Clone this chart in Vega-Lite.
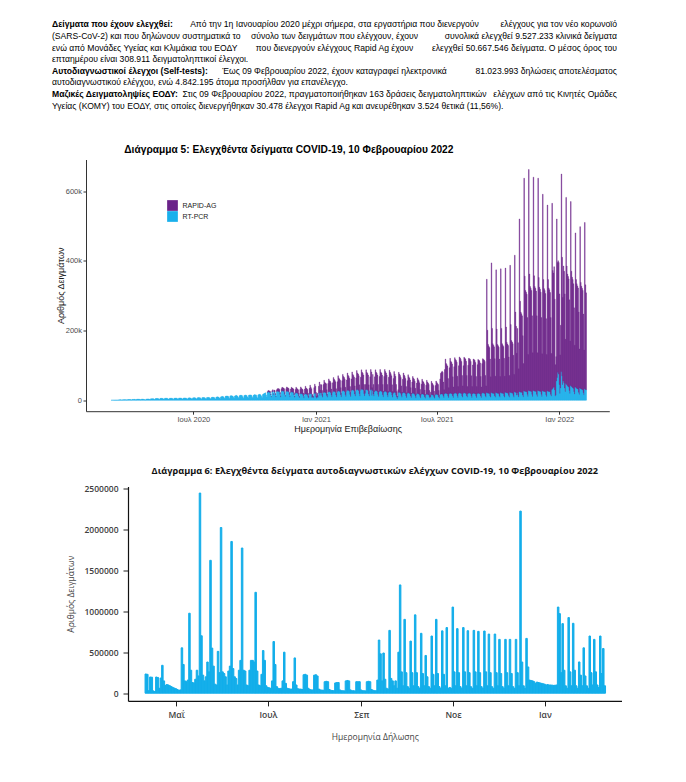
{
"$schema": "https://vega.github.io/schema/vega-lite/v6.json",
"background": "white",
"padding": {"left": 0, "top": 18.5, "right": 0, "bottom": 0},
"config": {"view": {"stroke": null}, "axis": {"grid": false}},
"datasets": {
"tb": [{"l":1,"t":"Δείγματα που έχουν ελεγχθεί:"},{"l":5,"t":"Αυτοδιαγνωστικοί έλεγχοι (Self-tests):"},{"l":7,"t":"Μαζικές Δειγματοληψίες ΕΟΔΥ:"}],
"tl": [{"l":2,"t":"(SARS-CoV-2) και που δηλώνουν συστηματικά το"},{"l":3,"t":"ενώ από Μονάδες Υγείας και Κλιμάκια του ΕΟΔΥ"},{"l":4,"t":"επταημέρου είναι 308.911 δειγματοληπτικοί έλεγχοι."},{"l":6,"t":"αυτοδιαγνωστικού ελέγχου, ενώ 4.842.195 άτομα προσήλθαν για επανέλεγχο."},{"l":8,"t":"Υγείας (ΚΟΜΥ) του ΕΟΔΥ, στις οποίες διενεργήθηκαν 30.478 έλεγχοι Rapid Ag και ανευρέθηκαν 3.524 θετικά (11,56%)."}],
"tc": [{"l":1,"t":"Από την 1η Ιανουαρίου 2020 μέχρι σήμερα, στα εργαστήρια που διενεργούν"},{"l":2,"t":"σύνολο των δειγμάτων που ελέγχουν, έχουν"},{"l":3,"t":"που διενεργούν ελέγχους Rapid Ag έχουν"},{"l":5,"t":"Έως 09 Φεβρουαρίου 2022, έχουν καταγραφεί ηλεκτρονικά"},{"l":7,"t":"Στις 09 Φεβρουαρίου 2022, πραγματοποιήθηκαν 163 δράσεις δειγματοληπτικών"}],
"tr": [{"l":1,"t":"ελέγχους για τον νέο κορωνοϊό"},{"l":2,"t":"συνολικά ελεγχθεί 9.527.233 κλινικά δείγματα"},{"l":3,"t":"ελεγχθεί 50.667.546 δείγματα.  Ο μέσος όρος του"},{"l":5,"t":"81.023.993 δηλώσεις αποτελέσματος"},{"l":7,"t":"ελέγχων από τις Κινητές Ομάδες"}],
"c5": [
{"d":"2020-02-28","p":0.2},{"d":"2020-02-29","p":0.2},{"d":"2020-03-01","p":0.1},
{"d":"2020-03-02","p":0.3},{"d":"2020-03-03","p":0.3},{"d":"2020-03-04","p":0.4},{"d":"2020-03-05","p":0.5},{"d":"2020-03-06","p":0.5},{"d":"2020-03-07","p":0.4},{"d":"2020-03-08","p":0.2},
{"d":"2020-03-09","p":0.7},{"d":"2020-03-10","p":0.8},{"d":"2020-03-11","p":0.9},{"d":"2020-03-12","p":1.0},{"d":"2020-03-13","p":1.1},{"d":"2020-03-14","p":0.8},{"d":"2020-03-15","p":0.5},
{"d":"2020-03-16","p":1.2},{"d":"2020-03-17","p":1.3},{"d":"2020-03-18","p":1.4},{"d":"2020-03-19","p":1.5},{"d":"2020-03-20","p":1.5},{"d":"2020-03-21","p":1.1},{"d":"2020-03-22","p":0.7},
{"d":"2020-03-23","p":1.6},{"d":"2020-03-24","p":1.8},{"d":"2020-03-25","p":1.7},{"d":"2020-03-26","p":1.9},{"d":"2020-03-27","p":1.8},{"d":"2020-03-28","p":1.3},{"d":"2020-03-29","p":0.8},
{"d":"2020-03-30","p":2.0},{"d":"2020-03-31","p":2.2},{"d":"2020-04-01","p":2.1},{"d":"2020-04-02","p":2.3},{"d":"2020-04-03","p":2.4},{"d":"2020-04-04","p":1.6},{"d":"2020-04-05","p":1.0},
{"d":"2020-04-06","p":2.6},{"d":"2020-04-07","p":2.8},{"d":"2020-04-08","p":2.7},{"d":"2020-04-09","p":2.9},{"d":"2020-04-10","p":2.5},{"d":"2020-04-11","p":1.8},{"d":"2020-04-12","p":1.0},
{"d":"2020-04-13","p":2.8},{"d":"2020-04-14","p":3.0},{"d":"2020-04-15","p":3.1},{"d":"2020-04-16","p":2.6},{"d":"2020-04-17","p":2.0},{"d":"2020-04-18","p":1.5},{"d":"2020-04-19","p":0.8},
{"d":"2020-04-20","p":3.0},{"d":"2020-04-21","p":3.4},{"d":"2020-04-22","p":3.5},{"d":"2020-04-23","p":3.6},{"d":"2020-04-24","p":3.3},{"d":"2020-04-25","p":2.4},{"d":"2020-04-26","p":1.4},
{"d":"2020-04-27","p":3.8},{"d":"2020-04-28","p":4.0},{"d":"2020-04-29","p":4.1},{"d":"2020-04-30","p":4.2},{"d":"2020-05-01","p":4.0},{"d":"2020-05-02","p":2.8},{"d":"2020-05-03","p":1.6},
{"d":"2020-05-04","p":4.5},{"d":"2020-05-05","p":4.8},{"d":"2020-05-06","p":5.0},{"d":"2020-05-07","p":4.9},{"d":"2020-05-08","p":4.6},{"d":"2020-05-09","p":3.2},{"d":"2020-05-10","p":1.9},
{"d":"2020-05-11","p":5.0},{"d":"2020-05-12","p":5.3},{"d":"2020-05-13","p":5.4},{"d":"2020-05-14","p":5.2},{"d":"2020-05-15","p":5.0},{"d":"2020-05-16","p":3.5},{"d":"2020-05-17","p":2.0},
{"d":"2020-05-18","p":5.4},{"d":"2020-05-19","p":5.6},{"d":"2020-05-20","p":5.8},{"d":"2020-05-21","p":5.5},{"d":"2020-05-22","p":5.2},{"d":"2020-05-23","p":3.6},{"d":"2020-05-24","p":2.1},
{"d":"2020-05-25","p":5.2},{"d":"2020-05-26","p":5.5},{"d":"2020-05-27","p":5.6},{"d":"2020-05-28","p":5.7},{"d":"2020-05-29","p":5.3},{"d":"2020-05-30","p":3.7},{"d":"2020-05-31","p":2.2},
{"d":"2020-06-01","p":5.5},{"d":"2020-06-02","p":5.8},{"d":"2020-06-03","p":6.0},{"d":"2020-06-04","p":5.9},{"d":"2020-06-05","p":5.6},{"d":"2020-06-06","p":3.9},{"d":"2020-06-07","p":2.3},
{"d":"2020-06-08","p":5.8},{"d":"2020-06-09","p":6.1},{"d":"2020-06-10","p":6.3},{"d":"2020-06-11","p":6.0},{"d":"2020-06-12","p":5.7},{"d":"2020-06-13","p":4.0},{"d":"2020-06-14","p":2.4},
{"d":"2020-06-15","p":6.0},{"d":"2020-06-16","p":6.3},{"d":"2020-06-17","p":6.5},{"d":"2020-06-18","p":6.2},{"d":"2020-06-19","p":5.9},{"d":"2020-06-20","p":4.1},{"d":"2020-06-21","p":2.4},
{"d":"2020-06-22","p":6.2},{"d":"2020-06-23","p":6.6},{"d":"2020-06-24","p":6.8},{"d":"2020-06-25","p":6.4},{"d":"2020-06-26","p":6.1},{"d":"2020-06-27","p":4.3},{"d":"2020-06-28","p":2.6},
{"d":"2020-06-29","p":6.5},{"d":"2020-06-30","p":6.9},{"d":"2020-07-01","p":7.1},{"d":"2020-07-02","p":6.8},{"d":"2020-07-03","p":6.5},{"d":"2020-07-04","p":4.5},{"d":"2020-07-05","p":2.7},
{"d":"2020-07-06","p":6.8},{"d":"2020-07-07","p":7.2},{"d":"2020-07-08","p":7.4},{"d":"2020-07-09","p":7.0},{"d":"2020-07-10","p":6.7},{"d":"2020-07-11","p":4.7},{"d":"2020-07-12","p":2.9},
{"d":"2020-07-13","p":7.0},{"d":"2020-07-14","p":7.5},{"d":"2020-07-15","p":7.7},{"d":"2020-07-16","p":7.3},{"d":"2020-07-17","p":7.0},{"d":"2020-07-18","p":4.9},{"d":"2020-07-19","p":3.0},
{"d":"2020-07-20","p":7.3},{"d":"2020-07-21","p":7.8},{"d":"2020-07-22","p":8.0},{"d":"2020-07-23","p":7.6},{"d":"2020-07-24","p":7.2},{"d":"2020-07-25","p":5.1},{"d":"2020-07-26","p":3.2},
{"d":"2020-07-27","p":7.8},{"d":"2020-07-28","p":8.3},{"d":"2020-07-29","p":8.6},{"d":"2020-07-30","p":8.2},{"d":"2020-07-31","p":7.8},{"d":"2020-08-01","p":5.5},{"d":"2020-08-02","p":3.4},
{"d":"2020-08-03","p":8.5},{"d":"2020-08-04","p":9.2},{"d":"2020-08-05","p":9.6},{"d":"2020-08-06","p":9.1},{"d":"2020-08-07","p":8.6},{"d":"2020-08-08","p":6.0},{"d":"2020-08-09","p":3.8},
{"d":"2020-08-10","p":9.5},{"d":"2020-08-11","p":10},{"d":"2020-08-12","p":11},{"d":"2020-08-13","p":10},{"d":"2020-08-14","p":9.7},{"d":"2020-08-15","p":6.8},{"d":"2020-08-16","p":4.3},
{"d":"2020-08-17","p":11},{"d":"2020-08-18","p":12},{"d":"2020-08-19","p":12},{"d":"2020-08-20","p":12},{"d":"2020-08-21","p":11},{"d":"2020-08-22","p":7.8},{"d":"2020-08-23","p":4.9},
{"d":"2020-08-24","p":12},{"d":"2020-08-25","p":13},{"d":"2020-08-26","p":13},{"d":"2020-08-27","p":12},{"d":"2020-08-28","p":12},{"d":"2020-08-29","p":8.3},{"d":"2020-08-30","p":5.3},
{"d":"2020-08-31","p":12},{"d":"2020-09-01","p":13},{"d":"2020-09-02","p":14},{"d":"2020-09-03","p":13},{"d":"2020-09-04","p":12},{"d":"2020-09-05","p":8.7},{"d":"2020-09-06","p":5.6},
{"d":"2020-09-07","p":13},{"d":"2020-09-08","p":14},{"d":"2020-09-09","p":14},{"d":"2020-09-10","p":14},{"d":"2020-09-11","p":13},{"d":"2020-09-12","p":9},{"d":"2020-09-13","p":5.8},
{"d":"2020-09-14","p":13},{"d":"2020-09-15","p":14},{"d":"2020-09-16","p":15},{"d":"2020-09-17","p":14},{"d":"2020-09-18","p":13},{"d":"2020-09-19","p":9.4},{"d":"2020-09-20","p":6},
{"d":"2020-09-21","p":14},{"d":"2020-09-22","p":15},{"d":"2020-09-23","p":15},{"d":"2020-09-24","p":15},{"d":"2020-09-25","p":14},{"d":"2020-09-26","p":9.8},{"d":"2020-09-27","p":6.2},
{"d":"2020-09-28","p":14},{"d":"2020-09-29","p":15},{"d":"2020-09-30","p":16},{"d":"2020-10-01","p":15},{"d":"2020-10-02","p":15},{"d":"2020-10-03","p":10},{"d":"2020-10-04","p":6.5},
{"d":"2020-10-05","p":15},{"d":"2020-10-06","p":16},{"d":"2020-10-07","p":17},{"d":"2020-10-08","p":16},{"d":"2020-10-09","p":15},{"d":"2020-10-10","p":11},{"d":"2020-10-11","p":6.9},
{"d":"2020-10-12","p":16},{"d":"2020-10-13","p":18},{"d":"2020-10-14","p":19},{"d":"2020-10-15","p":20},{"d":"2020-10-16","p":21},{"d":"2020-10-17","p":15},{"d":"2020-10-18","p":9},
{"d":"2020-10-19","p":22,"r":2},{"d":"2020-10-20","p":24,"r":3},{"d":"2020-10-21","p":24,"r":4},{"d":"2020-10-22","p":23,"r":3},{"d":"2020-10-23","p":22,"r":3},{"d":"2020-10-24","p":16,"r":2},{"d":"2020-10-25","p":10,"r":1},
{"d":"2020-10-26","p":23,"r":4},{"d":"2020-10-27","p":25,"r":5},{"d":"2020-10-28","p":16,"r":3},{"d":"2020-10-29","p":24,"r":5},{"d":"2020-10-30","p":23,"r":5},{"d":"2020-10-31","p":16,"r":3},{"d":"2020-11-01","p":10,"r":2},
{"d":"2020-11-02","p":24,"r":6},{"d":"2020-11-03","p":26,"r":7},{"d":"2020-11-04","p":26,"r":7},{"d":"2020-11-05","p":25,"r":8},{"d":"2020-11-06","p":24,"r":7},{"d":"2020-11-07","p":17,"r":5},{"d":"2020-11-08","p":10,"r":3},
{"d":"2020-11-09","p":25,"r":8},{"d":"2020-11-10","p":27,"r":10},{"d":"2020-11-11","p":27,"r":9},{"d":"2020-11-12","p":26,"r":9},{"d":"2020-11-13","p":25,"r":8},{"d":"2020-11-14","p":17,"r":6},{"d":"2020-11-15","p":11,"r":3},
{"d":"2020-11-16","p":24,"r":9},{"d":"2020-11-17","p":26,"r":12},{"d":"2020-11-18","p":26,"r":10},{"d":"2020-11-19","p":25,"r":10},{"d":"2020-11-20","p":24,"r":9},{"d":"2020-11-21","p":16,"r":6},{"d":"2020-11-22","p":10,"r":3},
{"d":"2020-11-23","p":22,"r":10},{"d":"2020-11-24","p":24,"r":13},{"d":"2020-11-25","p":24,"r":11},{"d":"2020-11-26","p":23,"r":11},{"d":"2020-11-27","p":22,"r":10},{"d":"2020-11-28","p":15,"r":6},{"d":"2020-11-29","p":9,"r":3},
{"d":"2020-11-30","p":19,"r":12},{"d":"2020-12-01","p":21,"r":16},{"d":"2020-12-02","p":21,"r":13},{"d":"2020-12-03","p":20,"r":12},{"d":"2020-12-04","p":19,"r":11},{"d":"2020-12-05","p":13,"r":7},{"d":"2020-12-06","p":8,"r":4},
{"d":"2020-12-07","p":17,"r":14},{"d":"2020-12-08","p":19,"r":19},{"d":"2020-12-09","p":19,"r":15},{"d":"2020-12-10","p":18,"r":14},{"d":"2020-12-11","p":17,"r":13},{"d":"2020-12-12","p":12,"r":8},{"d":"2020-12-13","p":7,"r":4},
{"d":"2020-12-14","p":16,"r":16},{"d":"2020-12-15","p":18,"r":22},{"d":"2020-12-16","p":18,"r":17},{"d":"2020-12-17","p":17,"r":16},{"d":"2020-12-18","p":16,"r":15},{"d":"2020-12-19","p":11,"r":9},{"d":"2020-12-20","p":7,"r":5},
{"d":"2020-12-21","p":17,"r":17},{"d":"2020-12-22","p":19,"r":24},{"d":"2020-12-23","p":19,"r":18},{"d":"2020-12-24","p":17,"r":16},{"d":"2020-12-25","p":8,"r":6},{"d":"2020-12-26","p":9,"r":8},{"d":"2020-12-27","p":7,"r":5},
{"d":"2020-12-28","p":18,"r":18},{"d":"2020-12-29","p":20,"r":26},{"d":"2020-12-30","p":20,"r":20},{"d":"2020-12-31","p":10,"r":12},{"d":"2021-01-01","p":6,"r":5},{"d":"2021-01-02","p":10,"r":10},{"d":"2021-01-03","p":8,"r":6},
{"d":"2021-01-04","p":20,"r":20},{"d":"2021-01-05","p":22,"r":30},{"d":"2021-01-06","p":14,"r":15},{"d":"2021-01-07","p":21,"r":24},{"d":"2021-01-08","p":21,"r":23},{"d":"2021-01-09","p":14,"r":14},{"d":"2021-01-10","p":9,"r":8},
{"d":"2021-01-11","p":21,"r":24},{"d":"2021-01-12","p":23,"r":34},{"d":"2021-01-13","p":23,"r":28},{"d":"2021-01-14","p":22,"r":27},{"d":"2021-01-15","p":21,"r":26},{"d":"2021-01-16","p":14,"r":16},{"d":"2021-01-17","p":9,"r":9},
{"d":"2021-01-18","p":22,"r":26},{"d":"2021-01-19","p":24,"r":37},{"d":"2021-01-20","p":25,"r":31},{"d":"2021-01-21","p":24,"r":30},{"d":"2021-01-22","p":22,"r":28},{"d":"2021-01-23","p":15,"r":17},{"d":"2021-01-24","p":10,"r":10},
{"d":"2021-01-25","p":22,"r":28},{"d":"2021-01-26","p":25,"r":40},{"d":"2021-01-27","p":26,"r":34},{"d":"2021-01-28","p":25,"r":32},{"d":"2021-01-29","p":23,"r":30},{"d":"2021-01-30","p":15,"r":18},{"d":"2021-01-31","p":10,"r":10},
{"d":"2021-02-01","p":23,"r":30},{"d":"2021-02-02","p":26,"r":44},{"d":"2021-02-03","p":27,"r":37},{"d":"2021-02-04","p":26,"r":35},{"d":"2021-02-05","p":24,"r":33},{"d":"2021-02-06","p":16,"r":20},{"d":"2021-02-07","p":10,"r":11},
{"d":"2021-02-08","p":24,"r":32},{"d":"2021-02-09","p":27,"r":47},{"d":"2021-02-10","p":28,"r":40},{"d":"2021-02-11","p":27,"r":38},{"d":"2021-02-12","p":25,"r":35},{"d":"2021-02-13","p":16,"r":21},{"d":"2021-02-14","p":11,"r":12},
{"d":"2021-02-15","p":25,"r":33},{"d":"2021-02-16","p":28,"r":50},{"d":"2021-02-17","p":29,"r":42},{"d":"2021-02-18","p":28,"r":40},{"d":"2021-02-19","p":26,"r":37},{"d":"2021-02-20","p":17,"r":22},{"d":"2021-02-21","p":11,"r":12},
{"d":"2021-02-22","p":26,"r":35},{"d":"2021-02-23","p":29,"r":52},{"d":"2021-02-24","p":30,"r":44},{"d":"2021-02-25","p":29,"r":42},{"d":"2021-02-26","p":27,"r":39},{"d":"2021-02-27","p":18,"r":23},{"d":"2021-02-28","p":12,"r":13},
{"d":"2021-03-01","p":27,"r":37},{"d":"2021-03-02","p":30,"r":55},{"d":"2021-03-03","p":31,"r":47},{"d":"2021-03-04","p":30,"r":45},{"d":"2021-03-05","p":28,"r":42},{"d":"2021-03-06","p":19,"r":25},{"d":"2021-03-07","p":12,"r":14},
{"d":"2021-03-08","p":28,"r":38},{"d":"2021-03-09","p":31,"r":56},{"d":"2021-03-10","p":32,"r":48},{"d":"2021-03-11","p":31,"r":46},{"d":"2021-03-12","p":29,"r":43},{"d":"2021-03-13","p":19,"r":26},{"d":"2021-03-14","p":13,"r":14},
{"d":"2021-03-15","p":20,"r":25},{"d":"2021-03-16","p":30,"r":57},{"d":"2021-03-17","p":31,"r":49},{"d":"2021-03-18","p":30,"r":47},{"d":"2021-03-19","p":28,"r":44},{"d":"2021-03-20","p":18,"r":26},{"d":"2021-03-21","p":12,"r":14},
{"d":"2021-03-22","p":27,"r":40},{"d":"2021-03-23","p":30,"r":58},{"d":"2021-03-24","p":31,"r":50},{"d":"2021-03-25","p":14,"r":22},{"d":"2021-03-26","p":28,"r":46},{"d":"2021-03-27","p":18,"r":27},{"d":"2021-03-28","p":12,"r":15},
{"d":"2021-03-29","p":25,"r":42},{"d":"2021-03-30","p":27,"r":60},{"d":"2021-03-31","p":28,"r":52},{"d":"2021-04-01","p":27,"r":50},{"d":"2021-04-02","p":25,"r":47},{"d":"2021-04-03","p":17,"r":28},{"d":"2021-04-04","p":11,"r":15},
{"d":"2021-04-05","p":24,"r":44},{"d":"2021-04-06","p":26,"r":62},{"d":"2021-04-07","p":27,"r":54},{"d":"2021-04-08","p":26,"r":52},{"d":"2021-04-09","p":24,"r":48},{"d":"2021-04-10","p":16,"r":29},{"d":"2021-04-11","p":10,"r":16},
{"d":"2021-04-12","p":23,"r":45},{"d":"2021-04-13","p":25,"r":63},{"d":"2021-04-14","p":26,"r":56},{"d":"2021-04-15","p":25,"r":53},{"d":"2021-04-16","p":23,"r":49},{"d":"2021-04-17","p":15,"r":30},{"d":"2021-04-18","p":10,"r":16},
{"d":"2021-04-19","p":22,"r":44},{"d":"2021-04-20","p":24,"r":62},{"d":"2021-04-21","p":25,"r":55},{"d":"2021-04-22","p":24,"r":52},{"d":"2021-04-23","p":22,"r":48},{"d":"2021-04-24","p":15,"r":29},{"d":"2021-04-25","p":9,"r":16},
{"d":"2021-04-26","p":20,"r":42},{"d":"2021-04-27","p":22,"r":60},{"d":"2021-04-28","p":23,"r":52},{"d":"2021-04-29","p":21,"r":48},{"d":"2021-04-30","p":15,"r":30},{"d":"2021-05-01","p":10,"r":15},{"d":"2021-05-02","p":5,"r":6},
{"d":"2021-05-03","p":10,"r":20},{"d":"2021-05-04","p":22,"r":58},{"d":"2021-05-05","p":23,"r":52},{"d":"2021-05-06","p":22,"r":49},{"d":"2021-05-07","p":20,"r":45},{"d":"2021-05-08","p":14,"r":27},{"d":"2021-05-09","p":9,"r":14},
{"d":"2021-05-10","p":20,"r":40},{"d":"2021-05-11","p":22,"r":56},{"d":"2021-05-12","p":22,"r":50},{"d":"2021-05-13","p":21,"r":47},{"d":"2021-05-14","p":19,"r":43},{"d":"2021-05-15","p":13,"r":26},{"d":"2021-05-16","p":8,"r":13},
{"d":"2021-05-17","p":19,"r":37},{"d":"2021-05-18","p":21,"r":52},{"d":"2021-05-19","p":21,"r":46},{"d":"2021-05-20","p":20,"r":44},{"d":"2021-05-21","p":18,"r":40},{"d":"2021-05-22","p":12,"r":24},{"d":"2021-05-23","p":8,"r":12},
{"d":"2021-05-24","p":18,"r":34},{"d":"2021-05-25","p":20,"r":48},{"d":"2021-05-26","p":20,"r":43},{"d":"2021-05-27","p":19,"r":41},{"d":"2021-05-28","p":17,"r":37},{"d":"2021-05-29","p":12,"r":22},{"d":"2021-05-30","p":7,"r":11},
{"d":"2021-05-31","p":17,"r":32},{"d":"2021-06-01","p":19,"r":45},{"d":"2021-06-02","p":19,"r":40},{"d":"2021-06-03","p":18,"r":38},{"d":"2021-06-04","p":16,"r":34},{"d":"2021-06-05","p":11,"r":20},{"d":"2021-06-06","p":7,"r":10},
{"d":"2021-06-07","p":16,"r":30},{"d":"2021-06-08","p":18,"r":42},{"d":"2021-06-09","p":18,"r":37},{"d":"2021-06-10","p":17,"r":35},{"d":"2021-06-11","p":15,"r":32},{"d":"2021-06-12","p":10,"r":19},{"d":"2021-06-13","p":6,"r":10},
{"d":"2021-06-14","p":15,"r":28},{"d":"2021-06-15","p":17,"r":40},{"d":"2021-06-16","p":17,"r":35},{"d":"2021-06-17","p":16,"r":33},{"d":"2021-06-18","p":15,"r":30},{"d":"2021-06-19","p":10,"r":18},{"d":"2021-06-20","p":6,"r":9},
{"d":"2021-06-21","p":9,"r":14},{"d":"2021-06-22","p":16,"r":38},{"d":"2021-06-23","p":16,"r":33},{"d":"2021-06-24","p":15,"r":31},{"d":"2021-06-25","p":14,"r":28},{"d":"2021-06-26","p":9,"r":17},{"d":"2021-06-27","p":6,"r":9},
{"d":"2021-06-28","p":15,"r":27},{"d":"2021-06-29","p":17,"r":38},{"d":"2021-06-30","p":17,"r":34},{"d":"2021-07-01","p":16,"r":32},{"d":"2021-07-02","p":15,"r":30},{"d":"2021-07-03","p":10,"r":18},{"d":"2021-07-04","p":6,"r":9},
{"d":"2021-07-05","p":16,"r":45},{"d":"2021-07-06","p":17,"r":60},{"d":"2021-07-07","p":18,"r":62},{"d":"2021-07-08","p":18,"r":65},{"d":"2021-07-09","p":17,"r":63},{"d":"2021-07-10","p":12,"r":40},{"d":"2021-07-11","p":8,"r":22},
{"d":"2021-07-12","p":18,"r":70},{"d":"2021-07-13","p":20,"r":98},{"d":"2021-07-14","p":20,"r":85},{"d":"2021-07-15","p":19,"r":83},{"d":"2021-07-16","p":18,"r":80},{"d":"2021-07-17","p":12,"r":50},{"d":"2021-07-18","p":8,"r":28},
{"d":"2021-07-19","p":18,"r":75},{"d":"2021-07-20","p":20,"r":100},{"d":"2021-07-21","p":20,"r":92},{"d":"2021-07-22","p":19,"r":90},{"d":"2021-07-23","p":18,"r":86},{"d":"2021-07-24","p":13,"r":54},{"d":"2021-07-25","p":8,"r":30},
{"d":"2021-07-26","p":18,"r":78},{"d":"2021-07-27","p":20,"r":102},{"d":"2021-07-28","p":21,"r":96},{"d":"2021-07-29","p":20,"r":94},{"d":"2021-07-30","p":19,"r":90},{"d":"2021-07-31","p":13,"r":56},{"d":"2021-08-01","p":8,"r":31},
{"d":"2021-08-02","p":19,"r":80},{"d":"2021-08-03","p":21,"r":103},{"d":"2021-08-04","p":21,"r":100},{"d":"2021-08-05","p":20,"r":97},{"d":"2021-08-06","p":19,"r":92},{"d":"2021-08-07","p":13,"r":58},{"d":"2021-08-08","p":9,"r":32},
{"d":"2021-08-09","p":19,"r":80},{"d":"2021-08-10","p":21,"r":102},{"d":"2021-08-11","p":21,"r":100},{"d":"2021-08-12","p":20,"r":98},{"d":"2021-08-13","p":19,"r":93},{"d":"2021-08-14","p":13,"r":58},{"d":"2021-08-15","p":9,"r":30},
{"d":"2021-08-16","p":18,"r":82},{"d":"2021-08-17","p":20,"r":100},{"d":"2021-08-18","p":21,"r":98},{"d":"2021-08-19","p":20,"r":97},{"d":"2021-08-20","p":19,"r":92},{"d":"2021-08-21","p":13,"r":57},{"d":"2021-08-22","p":8,"r":31},
{"d":"2021-08-23","p":18,"r":83},{"d":"2021-08-24","p":20,"r":98},{"d":"2021-08-25","p":20,"r":96},{"d":"2021-08-26","p":19,"r":95},{"d":"2021-08-27","p":18,"r":90},{"d":"2021-08-28","p":12,"r":56},{"d":"2021-08-29","p":8,"r":31},
{"d":"2021-08-30","p":18,"r":84},{"d":"2021-08-31","p":20,"r":97},{"d":"2021-09-01","p":20,"r":95},{"d":"2021-09-02","p":19,"r":94},{"d":"2021-09-03","p":18,"r":89},{"d":"2021-09-04","p":12,"r":56},{"d":"2021-09-05","p":8,"r":30},
{"d":"2021-09-06","p":19,"r":86},{"d":"2021-09-07","p":21,"r":98},{"d":"2021-09-08","p":21,"r":96},{"d":"2021-09-09","p":20,"r":95},{"d":"2021-09-10","p":19,"r":92},{"d":"2021-09-11","p":13,"r":58},{"d":"2021-09-12","p":9,"r":32},
{"d":"2021-09-13","p":22,"r":325},{"d":"2021-09-14","p":21,"r":180},{"d":"2021-09-15","p":20,"r":140},{"d":"2021-09-16","p":20,"r":135},{"d":"2021-09-17","p":19,"r":132},{"d":"2021-09-18","p":13,"r":105},{"d":"2021-09-19","p":9,"r":58},
{"d":"2021-09-20","p":22,"r":372},{"d":"2021-09-21","p":21,"r":185},{"d":"2021-09-22","p":20,"r":142},{"d":"2021-09-23","p":20,"r":138},{"d":"2021-09-24","p":19,"r":134},{"d":"2021-09-25","p":13,"r":106},{"d":"2021-09-26","p":9,"r":60},
{"d":"2021-09-27","p":22,"r":352},{"d":"2021-09-28","p":21,"r":183},{"d":"2021-09-29","p":20,"r":140},{"d":"2021-09-30","p":20,"r":136},{"d":"2021-10-01","p":19,"r":133},{"d":"2021-10-02","p":13,"r":105},{"d":"2021-10-03","p":9,"r":59},
{"d":"2021-10-04","p":22,"r":355},{"d":"2021-10-05","p":21,"r":185},{"d":"2021-10-06","p":20,"r":142},{"d":"2021-10-07","p":20,"r":138},{"d":"2021-10-08","p":19,"r":135},{"d":"2021-10-09","p":13,"r":107},{"d":"2021-10-10","p":9,"r":60},
{"d":"2021-10-11","p":23,"r":356},{"d":"2021-10-12","p":22,"r":188},{"d":"2021-10-13","p":21,"r":145},{"d":"2021-10-14","p":21,"r":140},{"d":"2021-10-15","p":20,"r":137},{"d":"2021-10-16","p":14,"r":110},{"d":"2021-10-17","p":9,"r":62},
{"d":"2021-10-18","p":23,"r":364},{"d":"2021-10-19","p":22,"r":195},{"d":"2021-10-20","p":21,"r":150},{"d":"2021-10-21","p":21,"r":146},{"d":"2021-10-22","p":20,"r":142},{"d":"2021-10-23","p":14,"r":115},{"d":"2021-10-24","p":9,"r":65},
{"d":"2021-10-25","p":24,"r":392},{"d":"2021-10-26","p":23,"r":230},{"d":"2021-10-27","p":22,"r":190},{"d":"2021-10-28","p":15,"r":120},{"d":"2021-10-29","p":21,"r":185},{"d":"2021-10-30","p":15,"r":150},{"d":"2021-10-31","p":10,"r":80},
{"d":"2021-11-01","p":25,"r":495},{"d":"2021-11-02","p":24,"r":260},{"d":"2021-11-03","p":23,"r":230},{"d":"2021-11-04","p":23,"r":225},{"d":"2021-11-05","p":22,"r":220},{"d":"2021-11-06","p":15,"r":170},{"d":"2021-11-07","p":10,"r":95},
{"d":"2021-11-08","p":27,"r":610},{"d":"2021-11-09","p":26,"r":330},{"d":"2021-11-10","p":25,"r":290},{"d":"2021-11-11","p":25,"r":285},{"d":"2021-11-12","p":24,"r":280},{"d":"2021-11-13","p":17,"r":220},{"d":"2021-11-14","p":11,"r":120},
{"d":"2021-11-15","p":28,"r":634},{"d":"2021-11-16","p":27,"r":335},{"d":"2021-11-17","p":26,"r":300},{"d":"2021-11-18","p":26,"r":295},{"d":"2021-11-19","p":25,"r":290},{"d":"2021-11-20","p":17,"r":225},{"d":"2021-11-21","p":11,"r":125},
{"d":"2021-11-22","p":28,"r":612},{"d":"2021-11-23","p":27,"r":330},{"d":"2021-11-24","p":26,"r":300},{"d":"2021-11-25","p":26,"r":295},{"d":"2021-11-26","p":25,"r":288},{"d":"2021-11-27","p":17,"r":225},{"d":"2021-11-28","p":11,"r":125},
{"d":"2021-11-29","p":28,"r":609},{"d":"2021-11-30","p":27,"r":325},{"d":"2021-12-01","p":26,"r":298},{"d":"2021-12-02","p":26,"r":292},{"d":"2021-12-03","p":25,"r":285},{"d":"2021-12-04","p":17,"r":220},{"d":"2021-12-05","p":11,"r":122},
{"d":"2021-12-06","p":27,"r":564},{"d":"2021-12-07","p":26,"r":320},{"d":"2021-12-08","p":25,"r":295},{"d":"2021-12-09","p":25,"r":290},{"d":"2021-12-10","p":24,"r":282},{"d":"2021-12-11","p":16,"r":218},{"d":"2021-12-12","p":11,"r":120},
{"d":"2021-12-13","p":27,"r":533},{"d":"2021-12-14","p":26,"r":320},{"d":"2021-12-15","p":25,"r":297},{"d":"2021-12-16","p":25,"r":292},{"d":"2021-12-17","p":24,"r":285},{"d":"2021-12-18","p":17,"r":220},{"d":"2021-12-19","p":12,"r":122},
{"d":"2021-12-20","p":30,"r":535},{"d":"2021-12-21","p":32,"r":340},{"d":"2021-12-22","p":35,"r":330},{"d":"2021-12-23","p":38,"r":345},{"d":"2021-12-24","p":30,"r":260},{"d":"2021-12-25","p":12,"r":90},{"d":"2021-12-26","p":15,"r":110},
{"d":"2021-12-27","p":55,"r":465},{"d":"2021-12-28","p":65,"r":330},{"d":"2021-12-29","p":80,"r":320},{"d":"2021-12-30","p":75,"r":320},{"d":"2021-12-31","p":45,"r":260},{"d":"2022-01-01","p":20,"r":110},{"d":"2022-01-02","p":35,"r":180},
{"d":"2022-01-03","p":82,"r":567},{"d":"2022-01-04","p":70,"r":340},{"d":"2022-01-05","p":45,"r":250},{"d":"2022-01-06","p":55,"r":330},{"d":"2022-01-07","p":50,"r":320},{"d":"2022-01-08","p":35,"r":270},{"d":"2022-01-09","p":25,"r":150},
{"d":"2022-01-10","p":48,"r":534},{"d":"2022-01-11","p":45,"r":340},{"d":"2022-01-12","p":42,"r":320},{"d":"2022-01-13","p":40,"r":315},{"d":"2022-01-14","p":38,"r":310},{"d":"2022-01-15","p":28,"r":260},{"d":"2022-01-16","p":20,"r":150},
{"d":"2022-01-17","p":42,"r":528},{"d":"2022-01-18","p":40,"r":330},{"d":"2022-01-19","p":38,"r":315},{"d":"2022-01-20","p":36,"r":310},{"d":"2022-01-21","p":34,"r":300},{"d":"2022-01-22","p":25,"r":240},{"d":"2022-01-23","p":18,"r":140},
{"d":"2022-01-24","p":38,"r":442},{"d":"2022-01-25","p":36,"r":310},{"d":"2022-01-26","p":34,"r":300},{"d":"2022-01-27","p":33,"r":295},{"d":"2022-01-28","p":32,"r":290},{"d":"2022-01-29","p":23,"r":230},{"d":"2022-01-30","p":17,"r":130},
{"d":"2022-01-31","p":35,"r":463},{"d":"2022-02-01","p":33,"r":305},{"d":"2022-02-02","p":32,"r":295},{"d":"2022-02-03","p":31,"r":290},{"d":"2022-02-04","p":30,"r":285},{"d":"2022-02-05","p":22,"r":225},{"d":"2022-02-06","p":16,"r":128},
{"d":"2022-02-07","p":33,"r":477},{"d":"2022-02-08","p":31,"r":300},{"d":"2022-02-09","p":30,"r":278}
],
"c6": [
{"d":"2021-04-10","v":234},{"d":"2021-04-11","v":230},{"d":"2021-04-12","v":30},{"d":"2021-04-13","v":197},{"d":"2021-04-14","v":195},{"d":"2021-04-15","v":28},{"d":"2021-04-16","v":20},{"d":"2021-04-17","v":197},{"d":"2021-04-18","v":192},{"d":"2021-04-19","v":60},{"d":"2021-04-20","v":185},{"d":"2021-04-21","v":340},{"d":"2021-04-22","v":150},{"d":"2021-04-23","v":95},{"d":"2021-04-24","v":105},{"d":"2021-04-25","v":100},{"d":"2021-04-26","v":90},{"d":"2021-04-27","v":80},{"d":"2021-04-28","v":70},{"d":"2021-04-29","v":62},{"d":"2021-04-30","v":55},
{"d":"2021-05-01","v":45},{"d":"2021-05-02","v":35},{"d":"2021-05-03","v":40},{"d":"2021-05-04","v":553},{"d":"2021-05-05","v":350},{"d":"2021-05-06","v":150},{"d":"2021-05-07","v":140},{"d":"2021-05-08","v":160},{"d":"2021-05-09","v":975},{"d":"2021-05-10","v":280},{"d":"2021-05-11","v":130},{"d":"2021-05-12","v":125},{"d":"2021-05-13","v":170},{"d":"2021-05-14","v":280},{"d":"2021-05-15","v":210},{"d":"2021-05-16","v":2440},{"d":"2021-05-17","v":700},{"d":"2021-05-18","v":220},{"d":"2021-05-19","v":150},{"d":"2021-05-20","v":200},{"d":"2021-05-21","v":380},{"d":"2021-05-22","v":260},{"d":"2021-05-23","v":1620},{"d":"2021-05-24","v":550},{"d":"2021-05-25","v":330},{"d":"2021-05-26","v":110},{"d":"2021-05-27","v":100},{"d":"2021-05-28","v":510},{"d":"2021-05-29","v":250},{"d":"2021-05-30","v":2020},{"d":"2021-05-31","v":260},
{"d":"2021-06-01","v":240},{"d":"2021-06-02","v":200},{"d":"2021-06-03","v":100},{"d":"2021-06-04","v":270},{"d":"2021-06-05","v":330},{"d":"2021-06-06","v":1850},{"d":"2021-06-07","v":300},{"d":"2021-06-08","v":200},{"d":"2021-06-09","v":180},{"d":"2021-06-10","v":100},{"d":"2021-06-11","v":280},{"d":"2021-06-12","v":400},{"d":"2021-06-13","v":1770},{"d":"2021-06-14","v":280},{"d":"2021-06-15","v":270},{"d":"2021-06-16","v":100},{"d":"2021-06-17","v":90},{"d":"2021-06-18","v":280},{"d":"2021-06-19","v":400},{"d":"2021-06-20","v":400},{"d":"2021-06-21","v":380},{"d":"2021-06-22","v":1230},{"d":"2021-06-23","v":270},{"d":"2021-06-24","v":100},{"d":"2021-06-25","v":90},{"d":"2021-06-26","v":230},{"d":"2021-06-27","v":520},{"d":"2021-06-28","v":400},{"d":"2021-06-29","v":90},{"d":"2021-06-30","v":70},
{"d":"2021-07-01","v":65},{"d":"2021-07-02","v":60},{"d":"2021-07-03","v":150},{"d":"2021-07-04","v":630},{"d":"2021-07-05","v":350},{"d":"2021-07-06","v":80},{"d":"2021-07-07","v":60},{"d":"2021-07-08","v":55},{"d":"2021-07-09","v":60},{"d":"2021-07-10","v":150},{"d":"2021-07-11","v":500},{"d":"2021-07-12","v":120},{"d":"2021-07-13","v":60},{"d":"2021-07-14","v":55},{"d":"2021-07-15","v":50},{"d":"2021-07-16","v":50},{"d":"2021-07-17","v":140},{"d":"2021-07-18","v":430},{"d":"2021-07-19","v":100},{"d":"2021-07-20","v":55},{"d":"2021-07-21","v":50},{"d":"2021-07-22","v":50},{"d":"2021-07-23","v":45},{"d":"2021-07-24","v":225},{"d":"2021-07-25","v":230},{"d":"2021-07-26","v":220},{"d":"2021-07-27","v":60},{"d":"2021-07-28","v":45},{"d":"2021-07-29","v":40},{"d":"2021-07-30","v":40},{"d":"2021-07-31","v":220},
{"d":"2021-08-01","v":225},{"d":"2021-08-02","v":210},{"d":"2021-08-03","v":50},{"d":"2021-08-04","v":40},{"d":"2021-08-05","v":38},{"d":"2021-08-06","v":36},{"d":"2021-08-07","v":140},{"d":"2021-08-08","v":145},{"d":"2021-08-09","v":140},{"d":"2021-08-10","v":45},{"d":"2021-08-11","v":35},{"d":"2021-08-12","v":32},{"d":"2021-08-13","v":30},{"d":"2021-08-14","v":125},{"d":"2021-08-15","v":130},{"d":"2021-08-16","v":130},{"d":"2021-08-17","v":40},{"d":"2021-08-18","v":30},{"d":"2021-08-19","v":30},{"d":"2021-08-20","v":28},{"d":"2021-08-21","v":150},{"d":"2021-08-22","v":155},{"d":"2021-08-23","v":150},{"d":"2021-08-24","v":40},{"d":"2021-08-25","v":30},{"d":"2021-08-26","v":30},{"d":"2021-08-27","v":28},{"d":"2021-08-28","v":140},{"d":"2021-08-29","v":140},{"d":"2021-08-30","v":140},{"d":"2021-08-31","v":40},
{"d":"2021-09-01","v":30},{"d":"2021-09-02","v":30},{"d":"2021-09-03","v":28},{"d":"2021-09-04","v":140},{"d":"2021-09-05","v":145},{"d":"2021-09-06","v":140},{"d":"2021-09-07","v":45},{"d":"2021-09-08","v":35},{"d":"2021-09-09","v":30},{"d":"2021-09-10","v":30},{"d":"2021-09-11","v":160},{"d":"2021-09-12","v":648},{"d":"2021-09-13","v":480},{"d":"2021-09-14","v":150},{"d":"2021-09-15","v":490},{"d":"2021-09-16","v":170},{"d":"2021-09-17","v":60},{"d":"2021-09-18","v":50},{"d":"2021-09-19","v":766},{"d":"2021-09-20","v":180},{"d":"2021-09-21","v":150},{"d":"2021-09-22","v":90},{"d":"2021-09-23","v":150},{"d":"2021-09-24","v":60},{"d":"2021-09-25","v":500},{"d":"2021-09-26","v":1320},{"d":"2021-09-27","v":260},{"d":"2021-09-28","v":90},{"d":"2021-09-29","v":900},{"d":"2021-09-30","v":250},
{"d":"2021-10-01","v":80},{"d":"2021-10-02","v":60},{"d":"2021-10-03","v":635},{"d":"2021-10-04","v":250},{"d":"2021-10-05","v":90},{"d":"2021-10-06","v":955},{"d":"2021-10-07","v":250},{"d":"2021-10-08","v":80},{"d":"2021-10-09","v":60},{"d":"2021-10-10","v":730},{"d":"2021-10-11","v":240},{"d":"2021-10-12","v":90},{"d":"2021-10-13","v":460},{"d":"2021-10-14","v":200},{"d":"2021-10-15","v":80},{"d":"2021-10-16","v":60},{"d":"2021-10-17","v":697},{"d":"2021-10-18","v":230},{"d":"2021-10-19","v":90},{"d":"2021-10-20","v":900},{"d":"2021-10-21","v":240},{"d":"2021-10-22","v":80},{"d":"2021-10-23","v":60},{"d":"2021-10-24","v":760},{"d":"2021-10-25","v":230},{"d":"2021-10-26","v":90},{"d":"2021-10-27","v":800},{"d":"2021-10-28","v":60},{"d":"2021-10-29","v":70},{"d":"2021-10-30","v":60},{"d":"2021-10-31","v":1050},
{"d":"2021-11-01","v":260},{"d":"2021-11-02","v":90},{"d":"2021-11-03","v":787},{"d":"2021-11-04","v":250},{"d":"2021-11-05","v":80},{"d":"2021-11-06","v":60},{"d":"2021-11-07","v":800},{"d":"2021-11-08","v":260},{"d":"2021-11-09","v":90},{"d":"2021-11-10","v":762},{"d":"2021-11-11","v":250},{"d":"2021-11-12","v":80},{"d":"2021-11-13","v":60},{"d":"2021-11-14","v":766},{"d":"2021-11-15","v":260},{"d":"2021-11-16","v":90},{"d":"2021-11-17","v":754},{"d":"2021-11-18","v":250},{"d":"2021-11-19","v":80},{"d":"2021-11-20","v":60},{"d":"2021-11-21","v":758},{"d":"2021-11-22","v":260},{"d":"2021-11-23","v":90},{"d":"2021-11-24","v":721},{"d":"2021-11-25","v":250},{"d":"2021-11-26","v":80},{"d":"2021-11-27","v":60},{"d":"2021-11-28","v":721},{"d":"2021-11-29","v":250},{"d":"2021-11-30","v":90},
{"d":"2021-12-01","v":656},{"d":"2021-12-02","v":240},{"d":"2021-12-03","v":80},{"d":"2021-12-04","v":60},{"d":"2021-12-05","v":656},{"d":"2021-12-06","v":250},{"d":"2021-12-07","v":90},{"d":"2021-12-08","v":656},{"d":"2021-12-09","v":240},{"d":"2021-12-10","v":80},{"d":"2021-12-11","v":60},{"d":"2021-12-12","v":656},{"d":"2021-12-13","v":250},{"d":"2021-12-14","v":90},{"d":"2021-12-15","v":2220},{"d":"2021-12-16","v":380},{"d":"2021-12-17","v":90},{"d":"2021-12-18","v":60},{"d":"2021-12-19","v":668},{"d":"2021-12-20","v":320},{"d":"2021-12-21","v":160},{"d":"2021-12-22","v":155},{"d":"2021-12-23","v":150},{"d":"2021-12-24","v":140},{"d":"2021-12-25","v":120},{"d":"2021-12-26","v":135},{"d":"2021-12-27","v":130},{"d":"2021-12-28","v":125},{"d":"2021-12-29","v":120},{"d":"2021-12-30","v":115},{"d":"2021-12-31","v":110},
{"d":"2022-01-01","v":100},{"d":"2022-01-02","v":105},{"d":"2022-01-03","v":100},{"d":"2022-01-04","v":100},{"d":"2022-01-05","v":98},{"d":"2022-01-06","v":95},{"d":"2022-01-07","v":97},{"d":"2022-01-08","v":100},{"d":"2022-01-09","v":1050},{"d":"2022-01-10","v":970},{"d":"2022-01-11","v":250},{"d":"2022-01-12","v":848},{"d":"2022-01-13","v":280},{"d":"2022-01-14","v":90},{"d":"2022-01-15","v":60},{"d":"2022-01-16","v":922},{"d":"2022-01-17","v":260},{"d":"2022-01-18","v":90},{"d":"2022-01-19","v":852},{"d":"2022-01-20","v":280},{"d":"2022-01-21","v":90},{"d":"2022-01-22","v":60},{"d":"2022-01-23","v":381},{"d":"2022-01-24","v":220},{"d":"2022-01-25","v":90},{"d":"2022-01-26","v":553},{"d":"2022-01-27","v":210},{"d":"2022-01-28","v":90},{"d":"2022-01-29","v":60},{"d":"2022-01-30","v":697},{"d":"2022-01-31","v":250},
{"d":"2022-02-01","v":100},{"d":"2022-02-02","v":656},{"d":"2022-02-03","v":260},{"d":"2022-02-04","v":100},{"d":"2022-02-05","v":70},{"d":"2022-02-06","v":697},{"d":"2022-02-07","v":240},{"d":"2022-02-08","v":545},{"d":"2022-02-09","v":90}
]
},
"spacing": 33,
"vconcat": [
{
"spacing": 0,
"hconcat": [
{"width": 51.6, "height": 1, "data": {"values": []}, "mark": {"type": "point", "opacity": 0}},
{
"width": 565, "height": 93,
"layer": [
{"data": {"name": "tb"}, "mark": {"type": "text", "align": "left", "baseline": "middle", "font": "Liberation Sans", "fontSize": 8.6, "fontWeight": "bold", "color": "#000000"},
 "encoding": {"x": {"value": 0}, "y": {"field": "l", "type": "ordinal", "axis": null, "scale": {"domain": [1,2,3,4,5,6,7,8]}}, "text": {"field": "t"}}},
{"data": {"name": "tl"}, "mark": {"type": "text", "align": "left", "baseline": "middle", "font": "Liberation Sans", "fontSize": 8.6, "color": "#000000"},
 "encoding": {"x": {"value": 0}, "y": {"field": "l", "type": "ordinal", "axis": null, "scale": {"domain": [1,2,3,4,5,6,7,8]}}, "text": {"field": "t"}}},
{"data": {"name": "tc"}, "mark": {"type": "text", "align": "center", "baseline": "middle", "font": "Liberation Sans", "fontSize": 8.6, "color": "#000000"},
 "encoding": {"x": {"value": 282.5}, "y": {"field": "l", "type": "ordinal", "axis": null, "scale": {"domain": [1,2,3,4,5,6,7,8]}}, "text": {"field": "t"}}},
{"data": {"name": "tr"}, "mark": {"type": "text", "align": "right", "baseline": "middle", "font": "Liberation Sans", "fontSize": 8.6, "color": "#000000"},
 "encoding": {"x": {"value": "width"}, "y": {"field": "l", "type": "ordinal", "axis": null, "scale": {"domain": [1,2,3,4,5,6,7,8]}}, "text": {"field": "t"}}}
]
}
]
},
{
"spacing": 0,
"hconcat": [
{"width": 56, "height": 1, "data": {"values": []}, "mark": {"type": "point", "opacity": 0}},
{
"width": 523.3, "height": 251.7,
"data": {"name": "c5"},
"transform": [{"fold": ["p", "r"], "as": ["k", "v"]}],
"title": {"text": "Διάγραμμα 5: Ελεγχθέντα δείγματα COVID-19, 10 Φεβρουαρίου 2022", "anchor": "start", "frame": "group", "dx": 38.3, "offset": -3.8, "baseline": "alphabetic", "font": "Liberation Sans", "fontSize": 10.2, "fontWeight": "bold", "color": "#000000"},
"mark": {"type": "bar", "binSpacing": 0, "strokeWidth": 0.35},
"encoding": {
"x": {"field": "d", "type": "temporal", "timeUnit": "utcyearmonthdate",
 "scale": {"domain": [{"year": 2020, "month": 1, "date": 22, "utc": true}, {"year": 2022, "month": 3, "date": 17, "utc": true}], "nice": false},
 "axis": {"values": [{"year": 2020, "month": 7, "date": 1, "utc": true}, {"year": 2021, "month": 1, "date": 1, "utc": true}, {"year": 2021, "month": 7, "date": 1, "utc": true}, {"year": 2022, "month": 1, "date": 1, "utc": true}],
  "labelExpr": "(utcmonth(datum.value) == 6 ? 'Ιουλ ' : 'Ιαν ') + utcyear(datum.value)",
  "title": "Ημερομηνία Επιβεβαίωσης", "titleFont": "Liberation Sans", "titleFontSize": 9, "titleFontWeight": "normal", "titleColor": "#1a1a1a", "titlePadding": 1,
  "labelFont": "Liberation Sans", "labelFontSize": 7.5, "labelColor": "#4d4d4d", "labelPadding": 1.5, "labelFlush": false, "labelOverlap": false,
  "tickColor": "#333333", "tickSize": 3, "domainColor": "#333333", "domainWidth": 1}},
"y": {"field": "v", "type": "quantitative", "stack": "zero",
 "scale": {"domain": [-31.6, 690.7], "nice": false, "zero": false},
 "axis": {"values": [0, 200, 400, 600], "labelExpr": "datum.value == 0 ? '0' : datum.value + 'k'",
  "title": "Αριθμός Δειγμάτων", "titleFont": "Liberation Sans", "titleFontSize": 9, "titleFontWeight": "normal", "titleColor": "#1a1a1a", "titlePadding": 1,
  "labelFont": "Liberation Sans", "labelFontSize": 7.5, "labelColor": "#4d4d4d", "labelPadding": 1.5,
  "minExtent": 20, "maxExtent": 20, "tickColor": "#333333", "tickSize": 3, "domainColor": "#333333", "domainWidth": 1}},
"color": {"field": "k", "type": "nominal",
 "scale": {"domain": ["r", "p"], "range": ["#6a2289", "#19b0ec"]},
 "legend": {"title": null, "orient": "none", "legendX": 167, "legendY": 181.5, "padding": 0, "symbolType": "square", "symbolSize": 115, "symbolStrokeWidth": 0, "symbolOpacity": 1, "rowPadding": 0, "labelOffset": 4.5, "labelFont": "Liberation Sans", "labelFontSize": 7, "labelColor": "#222222", "labelExpr": "datum.value == 'r' ? 'RAPID-AG' : 'RT-PCR'"}},
"stroke": {"field": "k", "type": "nominal", "scale": {"domain": ["r", "p"], "range": ["#6a2289", "#19b0ec"]}, "legend": null},
"order": {"field": "k", "sort": "ascending"}
}
}
]
},
{
"spacing": 0,
"hconcat": [
{"width": 66, "height": 1, "data": {"values": []}, "mark": {"type": "point", "opacity": 0}},
{
"width": 493.6, "height": 214.4,
"data": {"name": "c6"},
"title": {"text": "Διάγραμμα 6: Ελεγχθέντα δείγματα αυτοδιαγνωστικών ελέγχων COVID-19, 10 Φεβρουαρίου 2022", "anchor": "middle", "frame": "group", "offset": 0.6, "baseline": "alphabetic", "font": "Open Sans", "fontSize": 9.2, "fontWeight": "bold", "color": "#111111"},
"mark": {"type": "bar", "color": "#13aeea", "stroke": "#13aeea", "strokeWidth": 1, "binSpacing": 0},
"encoding": {
"x": {"field": "d", "type": "temporal", "timeUnit": "utcyearmonthdate",
 "scale": {"domain": [{"year": 2021, "month": 3, "date": 30, "utc": true}, {"year": 2022, "month": 2, "date": 21, "utc": true}], "nice": false},
 "axis": {"values": [{"year": 2021, "month": 5, "date": 1, "utc": true}, {"year": 2021, "month": 7, "date": 1, "utc": true}, {"year": 2021, "month": 9, "date": 1, "utc": true}, {"year": 2021, "month": 11, "date": 1, "utc": true}, {"year": 2022, "month": 1, "date": 1, "utc": true}],
  "labelExpr": "utcmonth(datum.value) == 4 ? 'Μαΐ' : utcmonth(datum.value) == 6 ? 'Ιουλ' : utcmonth(datum.value) == 8 ? 'Σεπ' : utcmonth(datum.value) == 10 ? 'Νοε' : 'Ιαν'",
  "title": "Ημερομηνία Δήλωσης", "titleFont": "Open Sans", "titleFontSize": 8.5, "titleFontWeight": "normal", "titleColor": "#444444", "titlePadding": 13,
  "labelFont": "Open Sans", "labelFontSize": 8.5, "labelFontWeight": 600, "labelColor": "#404040", "labelPadding": 5, "labelFlush": false, "labelOverlap": false,
  "tickColor": "#222222", "tickSize": 5, "domainColor": "#111111", "domainWidth": 1.2}},
"y": {"field": "v", "type": "quantitative",
 "scale": {"domain": [-94, 2520], "nice": false, "zero": false},
 "axis": {"values": [0, 500, 1000, 1500, 2000, 2500], "labelExpr": "format(datum.value * 1000, 'd')",
  "title": "Αριθμός Δειγμάτων", "titleFont": "Open Sans", "titleFontSize": 8.5, "titleFontWeight": "normal", "titleColor": "#444444", "titlePadding": 9,
  "labelFont": "Open Sans", "labelFontSize": 8.5, "labelFontWeight": 600, "labelColor": "#404040", "labelPadding": 5,
  "minExtent": 44, "maxExtent": 44, "tickColor": "#222222", "tickSize": 5, "domainColor": "#111111", "domainWidth": 1.2}}
}
}
]
}
]
}
